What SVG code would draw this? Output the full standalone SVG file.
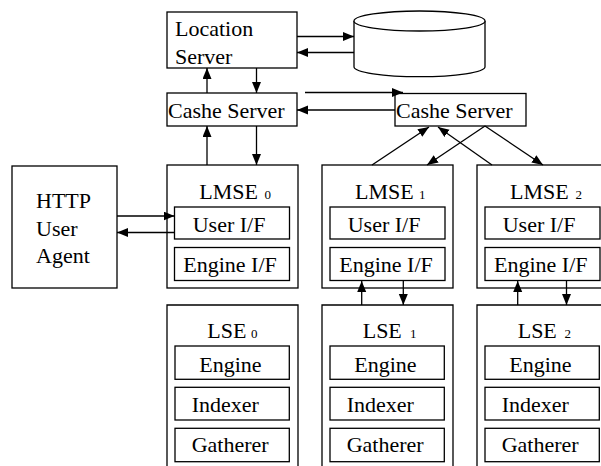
<svg xmlns="http://www.w3.org/2000/svg" width="601" height="466" viewBox="0 0 601 466" font-family="'Liberation Serif', 'Times New Roman', Times, serif">
<defs>
<style>
.box{fill:#fff;stroke:#000;stroke-width:1.3}
.open{fill:none;stroke:#000;stroke-width:1.3}
.ln{fill:none;stroke:#000;stroke-width:1.3;marker-end:url(#ah)}
text{font-family:'Liberation Serif','Times New Roman',Times,serif;font-size:22px;fill:#000}
.sub{font-size:13px}
</style>
<marker id="ah" markerUnits="userSpaceOnUse" markerWidth="12" markerHeight="10" refX="11" refY="4.5" orient="auto">
<path d="M0,0 L11,4.5 L0,9 z" fill="#000"/>
</marker>
</defs>
<rect width="601" height="466" fill="#fff"/>

<g id="location-server">
<rect class="box" x="167" y="12" width="130" height="56"/>
<text x="175" y="36">Location</text>
<text x="175" y="64">Server</text>
</g>

<g id="database">
<path class="box" d="M354,21 V66.7 A65.5,10 0 0 0 485,66.7 V21"/>
<ellipse class="box" cx="419.5" cy="21" rx="65.5" ry="10"/>
</g>

<g id="cashe-server-0">
<rect class="box" x="167" y="93" width="130" height="33"/>
<text x="168" y="118">Cashe Server</text>
</g>

<g id="cashe-server-1">
<rect class="box" x="395" y="93.5" width="131" height="32.5"/>
<text x="396" y="118">Cashe Server</text>
</g>

<g id="http-agent">
<rect class="box" x="12" y="166" width="105" height="122"/>
<text x="36" y="208">HTTP</text>
<text x="36" y="236">User</text>
<text x="36" y="263">Agent</text>
</g>

<g id="lmse0">
<rect class="box" x="167" y="165" width="131" height="123"/>
<text x="199.3" y="198.5">LMSE<tspan class="sub" x="264.5">0</tspan></text>
<rect class="box" x="174.5" y="207" width="115" height="32"/>
<text x="192.7" y="231.7">User I/F</text>
<rect class="box" x="174.5" y="247.5" width="115" height="33"/>
<text x="183.3" y="271.7">Engine I/F</text>
</g>

<g id="lmse1">
<rect class="box" x="322" y="165" width="131" height="123"/>
<text x="355" y="198.5">LMSE<tspan class="sub" x="419">1</tspan></text>
<rect class="box" x="330" y="207" width="115" height="32"/>
<text x="347.7" y="231.7">User I/F</text>
<rect class="box" x="330" y="247.5" width="115" height="33"/>
<text x="339.3" y="271.7">Engine I/F</text>
</g>

<g id="lmse2">
<rect class="box" x="477" y="165" width="131" height="123"/>
<text x="510" y="198.5">LMSE<tspan class="sub" x="575.5">2</tspan></text>
<rect class="box" x="485" y="207" width="115" height="32"/>
<text x="502.7" y="231.7">User I/F</text>
<rect class="box" x="485" y="247.5" width="115" height="33"/>
<text x="494" y="271.7">Engine I/F</text>
</g>

<g id="lse0">
<path class="open" d="M167,470 V305 H298 V470"/>
<text x="207.3" y="338.3">LSE<tspan class="sub" x="251">0</tspan></text>
<rect class="box" x="175" y="346" width="114.3" height="33.3"/>
<text x="199.3" y="371.7">Engine</text>
<rect class="box" x="175" y="387.3" width="114.3" height="32.7"/>
<text x="191.7" y="411.7">Indexer</text>
<rect class="box" x="175" y="428.3" width="114.3" height="33.4"/>
<text x="191.7" y="452.3">Gatherer</text>
</g>

<g id="lse1">
<path class="open" d="M322,470 V305 H453 V470"/>
<text x="362.7" y="338.3">LSE<tspan class="sub" x="410">1</tspan></text>
<rect class="box" x="330" y="346" width="114.3" height="33.3"/>
<text x="354.3" y="371.7">Engine</text>
<rect class="box" x="330" y="387.3" width="114.3" height="32.7"/>
<text x="346.7" y="411.7">Indexer</text>
<rect class="box" x="330" y="428.3" width="114.3" height="33.4"/>
<text x="346.7" y="452.3">Gatherer</text>
</g>

<g id="lse2">
<path class="open" d="M477,470 V305 H608 V470"/>
<text x="517.7" y="338.3">LSE<tspan class="sub" x="564.5">2</tspan></text>
<rect class="box" x="485" y="346" width="114.3" height="33.3"/>
<text x="509.3" y="371.7">Engine</text>
<rect class="box" x="485" y="387.3" width="114.3" height="32.7"/>
<text x="501.7" y="411.7">Indexer</text>
<rect class="box" x="485" y="428.3" width="114.3" height="33.4"/>
<text x="501.7" y="452.3">Gatherer</text>
</g>

<g id="connectors">
<line class="ln" x1="297" y1="36.5" x2="354" y2="36.5"/>
<line class="ln" x1="354" y1="52.5" x2="297" y2="52.5"/>
<line class="ln" x1="207" y1="93" x2="207" y2="68"/>
<line class="ln" x1="256.5" y1="68" x2="256.5" y2="93"/>
<line class="ln" x1="305" y1="92.5" x2="403" y2="92.5"/>
<line class="ln" x1="395" y1="110" x2="297" y2="110"/>
<line class="ln" x1="207" y1="165" x2="207" y2="126"/>
<line class="ln" x1="256.5" y1="126" x2="256.5" y2="165"/>
<line class="ln" x1="372" y1="165" x2="429" y2="127"/>
<line class="ln" x1="492" y1="165" x2="438" y2="127"/>
<line class="ln" x1="485" y1="126" x2="427" y2="165"/>
<line class="ln" x1="485" y1="126" x2="543" y2="165"/>
<line class="ln" x1="117" y1="216" x2="174.5" y2="216"/>
<line class="ln" x1="174.5" y1="232.5" x2="117" y2="232.5"/>
<line class="ln" x1="361.7" y1="305" x2="361.7" y2="281"/>
<line class="ln" x1="403.3" y1="281" x2="403.3" y2="305"/>
<line class="ln" x1="517.7" y1="305" x2="517.7" y2="281"/>
<line class="ln" x1="566.5" y1="281" x2="566.5" y2="305"/>
</g>
</svg>
